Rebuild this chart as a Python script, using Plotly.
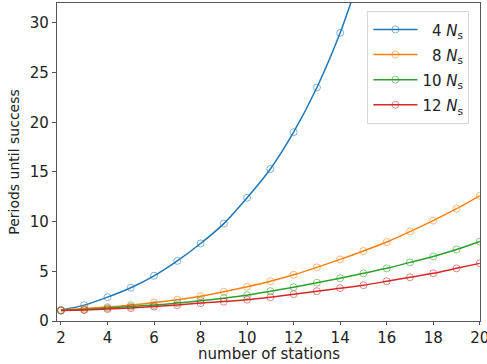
import plotly.graph_objects as go

stations = list(range(2, 21))
blue_x = list(range(2, 16))
ns4 = [1.1, 1.6, 2.4, 3.35, 4.55, 6.05, 7.8, 9.8, 12.4, 15.3, 19.0, 23.5, 29.0, 35.7]
ns8 = [1.1, 1.25, 1.4, 1.6, 1.85, 2.15, 2.5, 2.95, 3.45, 4.0, 4.65, 5.4, 6.2, 7.05, 7.95, 9.0, 10.1, 11.3, 12.6]
ns10 = [1.05, 1.15, 1.3, 1.45, 1.6, 1.8, 2.05, 2.3, 2.6, 3.0, 3.4, 3.85, 4.3, 4.8, 5.3, 5.9, 6.5, 7.2, 8.0]
ns12 = [1.05, 1.1, 1.2, 1.3, 1.45, 1.6, 1.8, 1.95, 2.15, 2.4, 2.7, 3.0, 3.3, 3.6, 4.0, 4.4, 4.8, 5.3, 5.8]
labels = ["&nbsp;&nbsp;4 <i>N</i><sub>s</sub>", "&nbsp;&nbsp;8 <i>N</i><sub>s</sub>",
          "10 <i>N</i><sub>s</sub>", "12 <i>N</i><sub>s</sub>"]
colors = ["#1f77b4", "#ff7f0e", "#2ca02c", "#d62728"]

fig = go.Figure()
series = [(blue_x, ns4), (stations, ns8), (stations, ns10), (stations, ns12)]
for (xs, ys), name, c in zip(series, labels, colors):
    fig.add_trace(go.Scatter(
        x=xs, y=ys, name="<span style='font-size:15px'>" + name + "</span>", mode="lines+markers",
        line=dict(color=c, width=1.5, shape="spline", smoothing=0.6),
        marker=dict(symbol="circle-open", size=7, color=c, opacity=0.55, line=dict(width=1)),
    ))

axis_font = dict(family="DejaVu Sans", size=15, color="#222")
fig.update_layout(
    width=487, height=364,
    margin=dict(l=57, r=7, t=3, b=43),
    paper_bgcolor="white", plot_bgcolor="white",
    font=dict(family="DejaVu Sans", size=14, color="#222"),
    showlegend=True,
    legend=dict(
        x=0.975, y=0.975, xanchor="right", yanchor="top",
        bgcolor="rgba(255,255,255,0.85)", bordercolor="#d8d8d8", borderwidth=1,
        font=dict(family="DejaVu Sans", size=17, color="#222"),
        tracegroupgap=0, itemwidth=44,
    ),
    xaxis=dict(
        range=[1.83, 20.01], tickvals=list(range(2, 21, 2)), automargin=False,
        ticklabeloverflow="allow",
        showgrid=False, zeroline=False, showline=True, mirror=True,
        linecolor="#555", linewidth=1.2, ticks="outside", ticklen=3, tickcolor="#555",
        tickfont=axis_font,
    ),
    yaxis=dict(
        range=[0, 32], tickvals=list(range(0, 31, 5)), automargin=False,
        showgrid=False, zeroline=False, showline=True, mirror=True,
        linecolor="#555", linewidth=1.2, ticks="outside", ticklen=4, tickcolor="#555",
        tickfont=axis_font,
        title=dict(text="Periods until success", font=dict(family="DejaVu Sans", size=14, color="#222"), standoff=6),
    ),
    annotations=[dict(
        text="number of stations", xref="paper", yref="paper", x=0.5, y=-0.105,
        xanchor="center", yanchor="middle", showarrow=False,
        font=dict(family="DejaVu Sans", size=15, color="#222"),
    )],
)
fig.write_html("out.html", config={"displayModeBar": False},
               post_script="document.body.style.margin='0';document.body.style.overflow='hidden';")
